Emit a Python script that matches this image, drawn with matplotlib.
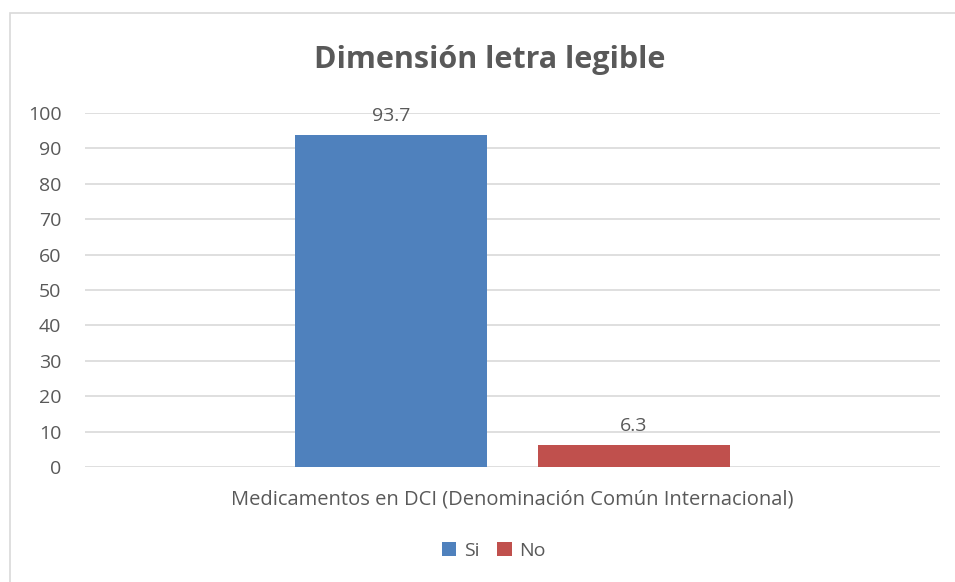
import numpy as np
from matplotlib import pyplot as plt
from matplotlib.patches import Rectangle

# Data
series = ['Si', 'No']
values = [93.7, 6.3]
colors = ['#4F81BD', '#C0504D']
category = 'Medicamentos en DCI (Denominación Común Internacional)'
yticks = np.arange(0, 101, 10)

plt.rcParams['font.family'] = ['Open Sans', 'DejaVu Sans']
txt = '#595959'

fig = plt.figure(figsize=(9.55, 5.82), dpi=100)
ax = fig.add_axes([85/955, 1-467/582, (940-85)/955, (467-113)/582])

# outer chart border
fig.patches.append(Rectangle((10/955, -0.01), 1.0, 1-13/582+0.01, transform=fig.transFigure,
                             fill=False, edgecolor='#D9D9D9', linewidth=1.2))

width = 0.225
offsets = [-0.142, 0.142]
for s, v, c, o in zip(series, values, colors, offsets):
    ax.bar(o, v, width=width, color=c, label=s, zorder=3)
    ax.text(o, v + 2.8, f'{v}', ha='center', va='bottom', fontsize=14, color=txt)

ax.set_xlim(-0.5, 0.5)
ax.set_ylim(0, 100)
ax.set_yticks(yticks)
ax.set_yticklabels([str(t) for t in yticks], fontsize=14, color=txt)
ax.set_xticks([])
ax.grid(axis='y', color='#D9D9D9', linewidth=1.2, zorder=0)
for sp in ax.spines.values():
    sp.set_visible(False)
ax.tick_params(axis='y', length=0, pad=17)

fig.text(490/955, 1-60/582, 'Dimensión letra legible', ha='center', va='center',
         fontsize=22, fontweight='bold', color=txt)
fig.text(512/955, 1-499/582, category, ha='center', va='center', fontsize=14.5, color=txt)

fig.legend(loc='center', bbox_to_anchor=(494/955, 1-551/582), ncol=2, frameon=False,
           fontsize=14, handlelength=0.75, handleheight=0.75, handletextpad=0.4,
           columnspacing=0.9, labelcolor=txt)

fig.savefig('out.png', dpi=100)
